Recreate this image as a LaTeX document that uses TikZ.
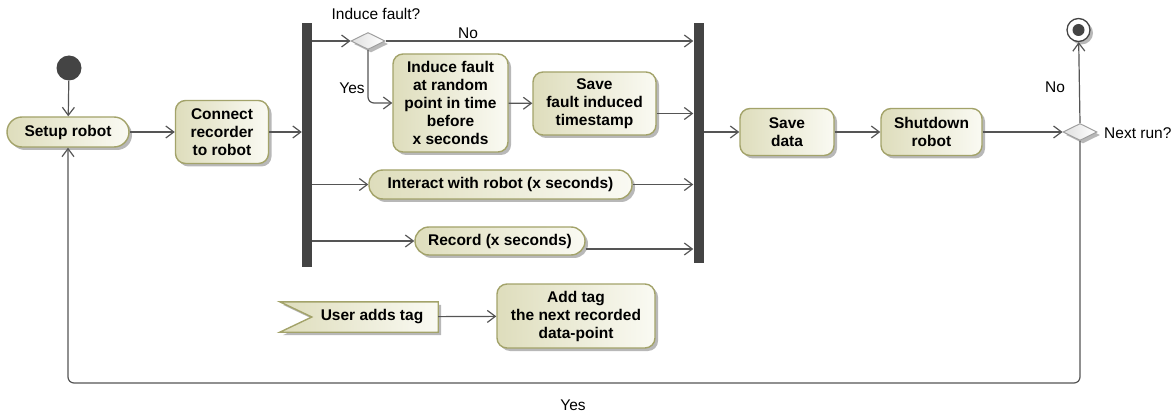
\documentclass[tikz,border=0pt]{standalone}
\usepackage{fontspec}
\setmainfont{Liberation Sans}
\usetikzlibrary{arrows.meta,shapes.geometric,shadows,backgrounds,calc}
\definecolor{boxborder}{HTML}{A3A36A}
\definecolor{boxdark}{HTML}{DEDDBC}
\definecolor{boxlight}{HTML}{FAFAF3}
\definecolor{linec}{HTML}{555555}
\definecolor{barc}{HTML}{444444}
\tikzset{
 shad/.style={drop shadow={shadow xshift=3pt, shadow yshift=-3pt, fill=black!28, opacity=1}},
 act/.style={draw=boxborder, line width=1.4pt, rounded corners=10pt, left color=boxdark, right color=boxlight, shad, align=center, font=\fontsize{15.5}{18}\selectfont\bfseries, inner sep=0pt},
 pill/.style={act, rounded corners=14pt},
 forkbar/.style={fill=barc, draw=none, minimum width=10pt, inner sep=0pt},
 dec/.style={diamond, aspect=2, draw=gray!75, line width=1pt, left color=gray!25, right color=white, minimum width=34pt, minimum height=17pt, inner sep=0pt, shad},
 flow/.style={draw=linec, line width=1.2pt, -{Straight Barb[length=8pt,width=12pt]}},
 lbl/.style={font=\fontsize{15.5}{18}\selectfont, inner sep=0pt},
}
\begin{document}
\begin{tikzpicture}[x=1pt,y=-1pt]
\useasboundingbox (0,0) rectangle (1173,414);
% nodes
\node[circle, fill=barc, minimum size=25pt, inner sep=0pt] (start) at (69,68) {};
\node[pill, minimum width=122pt, minimum height=30pt, rounded corners=15pt] (setup) at (68,132) {Setup robot};
\node[act, minimum width=93pt, minimum height=63pt] (connect) at (222,132) {Connect\\recorder\\to robot};
\node[forkbar, minimum height=244pt] (bar1) at (307,145) {};
\node[forkbar, minimum height=240pt] (bar2) at (698.5,143) {};
\node[dec] (d1) at (368,41) {};
\node[act, minimum width=115pt, minimum height=98pt] (induce) at (450.5,103) {Induce fault\\at random\\point in time\\before\\x seconds};
\node[act, minimum width=123pt, minimum height=63pt] (savefault) at (594.5,103.5) {Save\\fault induced\\timestamp};
\node[pill, minimum width=263pt, minimum height=29pt] (interact) at (500.5,184.5) {Interact with robot (x seconds)};
\node[pill, minimum width=170pt, minimum height=28pt] (record) at (500,241) {Record (x seconds)};
\node[act, minimum width=94pt, minimum height=47pt] (savedata) at (787,132) {Save\\data};
\node[act, minimum width=101pt, minimum height=47pt] (shutdown) at (931.5,132) {Shutdown\\robot};
\node[dec] (d2) at (1080,132) {};
\node[circle, draw=barc, line width=1.3pt, fill=white, minimum size=23pt, inner sep=0pt, shad] (end) at (1078.5,30) {};
\node[circle, fill=barc, minimum size=12pt, inner sep=0pt] (enddot) at (end) {};
\node[draw=none, minimum width=158pt, minimum height=30pt, inner sep=0pt, font=\fontsize{15.5}{18}\selectfont\bfseries] (usertag) at (359,317) {\hspace*{26pt}User adds tag};
\begin{scope}[on background layer]
\draw[draw=boxborder, line width=1.4pt, left color=boxdark, right color=boxlight, shad] (usertag.north west) -- (usertag.north east) -- (usertag.south east) -- (usertag.south west) -- ([xshift=32pt]usertag.west) -- cycle;
\end{scope}
\node[act, minimum width=158pt, minimum height=64pt] (addtag) at (576,316) {Add tag\\the next recorded\\data-point};
% labels
\node[lbl] (lfault) at (376,14) {Induce fault?};
\node[lbl] (lno1) at (468,33) {No};
\node[lbl] (lyes1) at (352,88) {Yes};
\node[lbl] (lno2) at (1055,87) {No};
\node[lbl, anchor=west] (lnext) at (1104,133) {Next run?};
\node[lbl] (lyes2) at (573,405) {Yes};
% connectors
\draw[flow] (start) -- (setup);
\draw[flow] (setup) -- (connect);
\draw[flow] (connect) -- (connect -| bar1.west);
\draw[flow] (d1 -| bar1.east) -- (d1.west);
\draw[flow] (d1.east) -- (d1 -| bar2.west);
\draw[flow, rounded corners=6pt] (d1.south) |- (induce.west);
\draw[flow] (induce) -- (savefault);
\coordinate (sfout) at ($(savefault.east)+(0,10)$);
\draw[flow] (sfout) -- (sfout -| bar2.west);
\draw[flow] (interact -| bar1.east) -- (interact.west);
\draw[flow] (interact.east) -- (interact -| bar2.west);
\draw[flow] (record -| bar1.east) -- (record.west);
\coordinate (recout) at ($(record.east)+(0,8)$);
\draw[flow] (recout) -- (recout -| bar2.west);
\draw[flow] (savedata -| bar2.east) -- (savedata.west);
\draw[flow] (savedata) -- (shutdown);
\draw[flow] (shutdown) -- (d2.west);
\draw[flow] (d2.north) -- (end);
\coordinate (loopr) at (1080,383);
\coordinate (loopl) at (68,383);
\draw[flow, rounded corners=6pt] (d2.south) -- (loopr) -- (loopl) -- (setup.south);
\draw[flow] (usertag) -- (addtag);
\end{tikzpicture}
\end{document}
